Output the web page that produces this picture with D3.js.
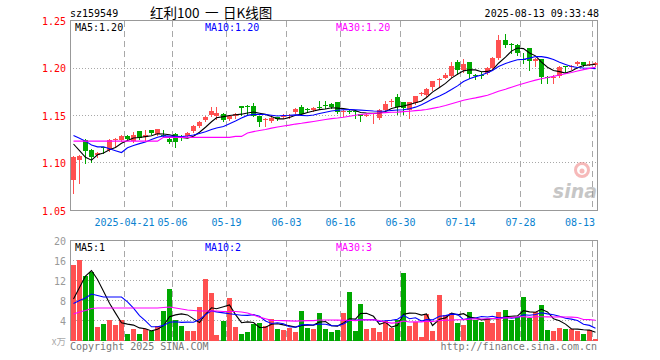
<!DOCTYPE html>
<html><head><meta charset="utf-8">
<script src="https://cdn.jsdelivr.net/npm/d3@7/dist/d3.min.js"></script>
<style>
html,body{margin:0;padding:0;background:#fff;}
svg{display:block;}
text{font-family:"DejaVu Sans Mono","Liberation Mono",monospace;}
</style></head>
<body><svg id="c" width="660" height="360"></svg>
<script>
const code = "sz159549";
const titleParts = ["红利100","一","日K线图"];
const stamp = "2025-08-13 09:33:48";
const dates = ["2025-04-08","2025-04-09","2025-04-10","2025-04-11","2025-04-14","2025-04-15","2025-04-16","2025-04-17","2025-04-18",
"2025-04-21","2025-04-22","2025-04-23","2025-04-24","2025-04-25","2025-04-28","2025-04-29","2025-04-30",
"2025-05-06","2025-05-07","2025-05-08","2025-05-09","2025-05-12","2025-05-13","2025-05-14","2025-05-15","2025-05-16","2025-05-19","2025-05-20","2025-05-21","2025-05-22","2025-05-23","2025-05-26","2025-05-27","2025-05-28","2025-05-29","2025-05-30",
"2025-06-03","2025-06-04","2025-06-05","2025-06-06","2025-06-09","2025-06-10","2025-06-11","2025-06-12","2025-06-13","2025-06-16","2025-06-17","2025-06-18","2025-06-19","2025-06-20","2025-06-23","2025-06-24","2025-06-25","2025-06-26","2025-06-27","2025-06-30",
"2025-07-01","2025-07-02","2025-07-03","2025-07-04","2025-07-07","2025-07-08","2025-07-09","2025-07-10","2025-07-11","2025-07-14","2025-07-15","2025-07-16","2025-07-17","2025-07-18","2025-07-21","2025-07-22","2025-07-23","2025-07-24","2025-07-25","2025-07-28","2025-07-29","2025-07-30","2025-07-31",
"2025-08-01","2025-08-04","2025-08-05","2025-08-06","2025-08-07","2025-08-08","2025-08-11","2025-08-12","2025-08-13"];
const open  = [1.082,1.103,1.124,1.114,1.108,1.117,1.114,1.124,1.124,1.128,1.123,1.134,1.127,1.135,1.131,1.130,1.125,1.131,1.128,1.128,1.134,1.139,1.145,1.151,1.150,1.152,1.146,1.150,1.160,1.160,1.160,1.150,1.145,1.144,1.148,1.149,1.150,1.154,1.159,1.157,1.156,1.159,1.161,1.162,1.164,1.154,1.155,1.155,1.152,1.149,1.152,1.147,1.156,1.164,1.170,1.164,1.156,1.163,1.173,1.172,1.180,1.187,1.190,1.192,1.206,1.198,1.206,1.193,1.193,1.195,1.200,1.211,1.230,1.225,1.224,1.210,1.221,1.207,1.209,1.191,1.189,1.192,1.202,1.201,1.204,1.206,1.203,1.203];
const high  = [1.107,1.108,1.125,1.115,1.112,1.117,1.125,1.126,1.129,1.129,1.133,1.134,1.135,1.135,1.136,1.135,1.126,1.132,1.129,1.133,1.140,1.144,1.150,1.159,1.159,1.153,1.151,1.153,1.160,1.161,1.163,1.150,1.147,1.149,1.148,1.152,1.152,1.158,1.161,1.158,1.159,1.165,1.165,1.163,1.164,1.156,1.156,1.156,1.152,1.152,1.153,1.157,1.165,1.167,1.173,1.164,1.164,1.171,1.175,1.179,1.186,1.189,1.195,1.206,1.208,1.209,1.206,1.194,1.196,1.201,1.212,1.235,1.236,1.226,1.225,1.216,1.221,1.211,1.210,1.192,1.193,1.202,1.202,1.203,1.207,1.206,1.207,1.206];
const low   = [1.068,1.079,1.100,1.101,1.106,1.110,1.113,1.117,1.123,1.124,1.122,1.125,1.124,1.131,1.130,1.127,1.121,1.117,1.124,1.127,1.133,1.138,1.144,1.150,1.146,1.144,1.145,1.147,1.151,1.152,1.149,1.139,1.139,1.143,1.145,1.147,1.147,1.153,1.151,1.154,1.155,1.157,1.158,1.158,1.153,1.149,1.153,1.147,1.144,1.149,1.142,1.146,1.155,1.160,1.152,1.152,1.147,1.162,1.172,1.171,1.177,1.180,1.189,1.191,1.194,1.196,1.190,1.188,1.190,1.194,1.199,1.210,1.222,1.216,1.214,1.205,1.198,1.202,1.184,1.184,1.184,1.191,1.196,1.199,1.203,1.202,1.203,1.202];
const close = [1.106,1.107,1.113,1.106,1.111,1.116,1.124,1.125,1.128,1.125,1.130,1.126,1.130,1.132,1.136,1.129,1.122,1.122,1.126,1.132,1.139,1.143,1.148,1.155,1.153,1.145,1.149,1.152,1.158,1.159,1.150,1.143,1.146,1.147,1.146,1.150,1.151,1.157,1.152,1.156,1.158,1.158,1.160,1.159,1.154,1.155,1.154,1.154,1.149,1.151,1.153,1.156,1.162,1.165,1.159,1.158,1.164,1.171,1.174,1.178,1.186,1.188,1.193,1.202,1.198,1.204,1.194,1.192,1.192,1.200,1.211,1.230,1.224,1.224,1.216,1.208,1.207,1.209,1.191,1.189,1.191,1.201,1.201,1.202,1.206,1.203,1.204,1.205];
const volume = [15.2,16.2,13.0,13.8,2.8,3.4,4.2,3.2,4.2,1.4,2.4,1.4,2.4,2.0,3.0,6.0,10.4,4.2,3.0,2.0,2.0,6.8,12.4,9.5,1.0,4.0,8.6,2.8,1.4,1.8,3.4,3.6,3.0,4.4,2.4,2.2,2.6,1.8,6.0,2.6,2.4,5.6,2.4,1.8,2.2,5.6,9.8,2.0,7.4,2.4,2.6,1.8,4.0,2.6,4.2,13.6,3.0,3.8,0.8,5.4,2.0,9.2,5.2,5.6,3.6,3.2,5.8,4.2,3.8,4.4,3.6,5.8,6.2,4.2,4.8,8.8,4.6,5.8,7.2,2.2,2.0,2.6,2.4,2.4,2.0,1.4,2.2,0.2];
// moving-average values before enough in-window days exist
const ma5Head  = [1.120,1.113,1.106,1.103];
const ma10Head = [1.129,1.126,1.123,1.119,1.117,1.117,1.115,1.113,1.111];
const ma30Head = [1.123,1.123,1.123,1.123,1.123,1.123,1.123,1.123,1.123,1.123,1.123,1.123,1.123,1.123,1.123,1.127,1.127,1.127,1.127,1.127,1.127,1.127,1.127,1.127,1.127,1.127,1.127,1.128,1.128];
const vma5Head  = [8.3,10.6,12.9,14.0];
const vma10Head = [7.4,8.0,8.5,9.3,9.0,8.7,8.7,8.7,8.7];
const vma30Head = [5.3,5.7,6.0,6.4,6.5,6.5,6.5,6.5,6.5,6.5,6.5,6.5,6.5,6.5,6.5,6.6,6.7,6.5,6.3,6.1,6.0,5.9,5.9,5.9,5.9,5.8,5.8,5.8,5.7];
// legend readouts as printed on the chart
const priceLegend = ["1.20","1.20","1.20"];
const volLegend = ["1","2","3"];
const priceTicks = [1.25,1.20,1.15,1.10,1.05];
const volTicks = [20,16,12,8,4];
const volUnit = "x万";
const tickDates = ["2025-04-21","2025-05-06","2025-05-19","2025-06-03","2025-06-16","2025-06-30","2025-07-14","2025-07-28","2025-08-13"];
const tickLabels = ["2025-04-21","05-06","05-19","06-03","06-16","06-30","07-14","07-28","08-13"];

function ma(vals, n, head){
  return vals.map((v,i)=> i < n-1 ? head[i] : d3.mean(vals.slice(i-n+1,i+1)));
}
const ma5=ma(close,5,ma5Head), ma10=ma(close,10,ma10Head), ma30=ma(close,30,ma30Head);
const vma5=ma(volume,5,vma5Head), vma10=ma(volume,10,vma10Head), vma30=ma(volume,30,vma30Head);

const svg = d3.select("#c");
const L=70, R=598, N=dates.length;
const x = d3.scaleLinear().domain([0,N]).range([L,R]);
const y = d3.scaleLinear().domain([1.05,1.25]).range([210.5,20.5]);
const yv = d3.scaleLinear().domain([0,20]).range([340.5,240.5]);
const RED="#ff5050", GREEN="#00a800";
const cx = i => Math.floor(x(i))+3.5;

// header
svg.append("text").attr("x",70).attr("y",16.5).attr("font-size",10).attr("fill","#000").text(code);
const tt = svg.append("text").attr("y",17.5).attr("font-size",13.5).attr("fill","#000")
  .style("font-family","'Noto Sans CJK SC',sans-serif");
[150,205,223].forEach((xx,k)=>tt.append("tspan").attr("x",xx).text(titleParts[k]));
svg.append("text").attr("x",599).attr("y",16.5).attr("text-anchor","end").attr("font-size",10).attr("fill","#000").text(stamp);

function panel(yscale, top, bottom, ticks){
  const g = svg.append("g").attr("shape-rendering","crispEdges");
  g.selectAll(".hg").data(ticks.filter(t=>Math.abs(yscale(t)-top)>1 && Math.abs(yscale(t)-bottom)>1)).join("line")
    .attr("x1",L).attr("x2",R).attr("y1",d=>Math.floor(yscale(d))+0.5).attr("y2",d=>Math.floor(yscale(d))+0.5)
    .attr("stroke","#a8a8a8").attr("stroke-dasharray","1,2");
  g.selectAll(".vg").data(tickDates).join("line")
    .attr("x1",d=>Math.floor(x(dates.indexOf(d)))+0.5).attr("x2",d=>Math.floor(x(dates.indexOf(d)))+0.5)
    .attr("y1",top).attr("y2",bottom)
    .attr("stroke","#a8a8a8").attr("stroke-dasharray","6,4");
  g.append("rect").attr("x",L+0.5).attr("y",top).attr("width",R-L-1).attr("height",bottom-top)
    .attr("fill","none").attr("stroke","#999");
}
panel(y, 20.5, 210.5, priceTicks);
panel(yv, 240.5, 340.5, volTicks);

// price labels
svg.selectAll(".pl").data(priceTicks).join("text")
  .attr("x",66).attr("y",d=>y(d)+4).attr("text-anchor","end").attr("font-size",10).attr("fill","#f00")
  .text(d=>d3.format(".2f")(d));
// volume labels
svg.selectAll(".vl").data(volTicks).join("text")
  .attr("x",66).attr("y",d=>yv(d)+4).attr("text-anchor","end").attr("font-size",10).attr("fill","#999")
  .text(d=>d);
svg.append("text").attr("x",66).attr("y",yv(0)+4).attr("text-anchor","end").attr("font-size",9.5).attr("fill","#aaa")
  .style("font-family","'Noto Sans CJK SC',sans-serif").text(volUnit);
// x labels (last one kept inside the frame)
svg.selectAll(".xl").data(tickDates).join("text")
  .attr("x",(d,i)=>{const p=Math.floor(x(dates.indexOf(d)))+0.5; const w=tickLabels[i].length*6; return Math.min(p, R-3-w/2);})
  .attr("y",225.5).attr("text-anchor","middle")
  .attr("font-size",10).attr("fill","#0a82d0").text((d,i)=>tickLabels[i]);

// watermark
const wm = svg.append("g").attr("opacity",0.55);
wm.append("circle").attr("cx",582).attr("cy",170).attr("r",6.5).attr("fill","none").attr("stroke","#f08080").attr("stroke-width",3);
wm.append("circle").attr("cx",582).attr("cy",171).attr("r",2.5).attr("fill","#f08080");
wm.append("text").attr("x",597).attr("y",198).attr("text-anchor","end").attr("font-size",19).attr("font-weight","bold")
  .attr("font-style","italic").attr("fill","#999").style("font-family","'DejaVu Sans',sans-serif").text("sina");

// candles
const idx = d3.range(N);
const cg = svg.append("g").attr("shape-rendering","crispEdges");
cg.selectAll(".wick").data(idx).join("line")
  .attr("x1",cx).attr("x2",cx).attr("y1",i=>Math.round(y(high[i]))).attr("y2",i=>Math.round(y(low[i]))+1)
  .attr("stroke",i=>close[i]>=open[i]?RED:GREEN);
cg.selectAll(".body").data(idx).join("rect")
  .attr("x",i=>Math.floor(x(i))+1).attr("width",5)
  .attr("y",i=>Math.round(y(Math.max(open[i],close[i]))))
  .attr("height",i=>Math.max(1,Math.round(y(Math.min(open[i],close[i])))-Math.round(y(Math.max(open[i],close[i])))))
  .attr("fill",i=>close[i]>=open[i]?RED:GREEN);
// volume bars
cg.selectAll(".vb").data(idx).join("rect")
  .attr("x",i=>Math.floor(x(i))+1).attr("width",5)
  .attr("y",i=>Math.round(yv(volume[i]))).attr("height",i=>Math.round(yv(0))-Math.round(yv(volume[i])))
  .attr("fill",i=>close[i]>=open[i]?RED:GREEN);

// MA lines
const lp = d3.line().x((d,i)=>cx(i)).y(d=>y(d));
const lv = d3.line().x((d,i)=>cx(i)).y(d=>yv(d));
[[ma5,"#000"],[ma10,"#0000ff"],[ma30,"#ff00ff"]].forEach(([a,c])=>
  svg.append("path").attr("d",lp(a)).attr("fill","none").attr("stroke",c).attr("stroke-width",1.1));
[[vma5,"#000"],[vma10,"#0000ff"],[vma30,"#ff00ff"]].forEach(([a,c])=>
  svg.append("path").attr("d",lv(a)).attr("fill","none").attr("stroke",c).attr("stroke-width",1.1));

// legends
const names=["MA5:","MA10:","MA30:"], cols=["#000","#0000ff","#ff00ff"], lx=[75,205,336];
names.forEach((n,k)=>svg.append("text").attr("x",lx[k]).attr("y",30.5).attr("font-size",10).attr("fill",cols[k]).text(n+priceLegend[k]));
names.forEach((n,k)=>svg.append("text").attr("x",lx[k]).attr("y",250.5).attr("font-size",10).attr("fill",cols[k]).text(n+volLegend[k]));

// footer
svg.append("text").attr("x",70).attr("y",349.5).attr("font-size",10).attr("fill","#777").text("Copyright 2025 SINA.COM");
svg.append("text").attr("x",597).attr("y",349.5).attr("text-anchor","end").attr("font-size",10).attr("fill","#777").text("http://finance.sina.com.cn");
</script></body></html>
